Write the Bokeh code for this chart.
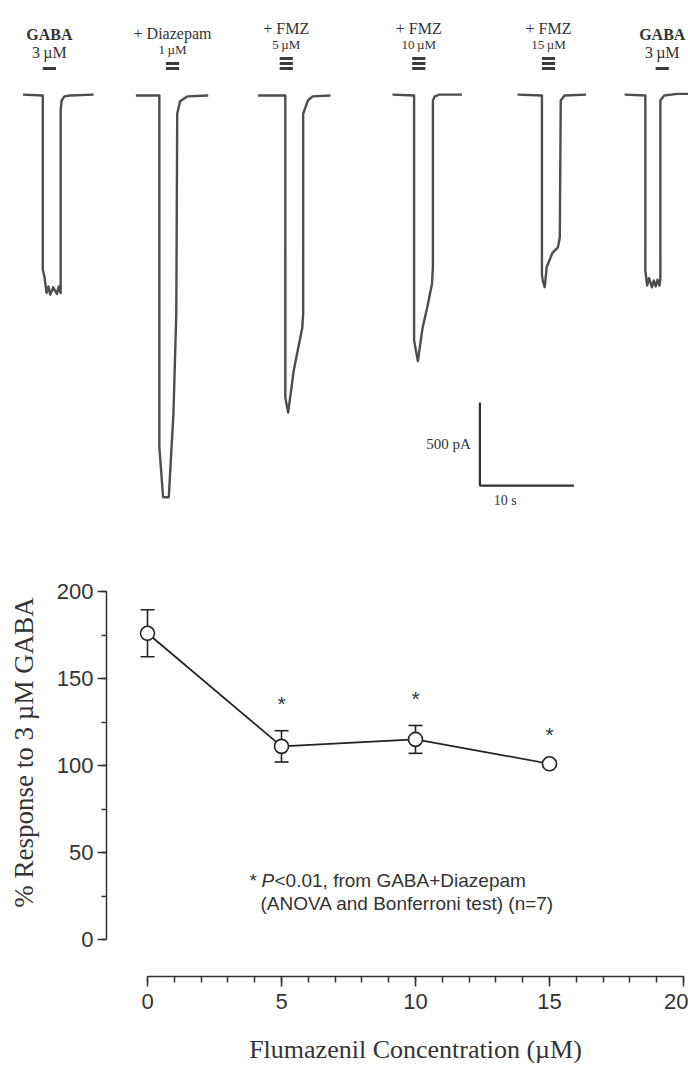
import math
from bokeh.plotting import figure
from bokeh.models import (Range1d, LinearAxis, SingleIntervalTicker, ColumnDataSource,
                          Whisker, TeeHead, Label)
from bokeh.core.properties import value
from bokeh.embed import file_html
from bokeh.resources import INLINE

# ---------------- whole-cell current sweeps (time in s, current in pA) ----------------
gaba_t = [2.4, 4.5, 4.5, 4.7, 4.8, 4.9, 5.1, 5.3, 5.6, 6.0, 6.2, 6.4, 6.4, 6.5, 6.8, 7.4, 9.9]
gaba_i = [5, 0, -1050, -1100, -1145, -1190, -1150, -1200, -1155, -1195, -1150, -1190, -90, -30, -5, 0, 5]

diaz_t = [14.4, 16.9, 16.9, 17.3, 17.9, 18.4, 18.7, 18.8, 19.1, 19.9, 22.1]
diaz_i = [0, 0, -2120, -2420, -2420, -1915, -1315, -110, -35, -5, 0]

fmz5_t = [27.4, 30.3, 30.3, 30.6, 31.2, 32.1, 32.2, 32.2, 32.7, 33.2, 35.1]
fmz5_i = [0, 0, -1820, -1910, -1655, -1400, -1315, -110, -30, -5, 0]

fmz10_t = [41.7, 44.0, 44.0, 44.4, 44.9, 45.4, 45.9, 46.0, 46.0, 46.2, 46.7, 49.1]
fmz10_i = [5, 0, -1475, -1600, -1400, -1275, -1135, -1035, -30, -5, 5, 5]

fmz15_t = [55.0, 57.6, 57.6, 57.7, 57.9, 58.1, 58.7, 59.3, 59.5, 59.6, 60.0, 62.3]
fmz15_i = [5, 0, -1080, -1120, -1155, -1035, -950, -915, -855, -30, 0, 5]

wash_t = [66.4, 68.6, 68.6, 68.8, 69.0, 69.3, 69.5, 69.7, 69.9, 70.1, 70.2, 70.2, 70.6, 72.0, 73.5]
wash_i = [5, 0, -1055, -1145, -1100, -1155, -1115, -1150, -1110, -1145, -1105, -30, 0, 10, 10]

# drug applications: centre time (s), number of co-applied drugs, labels
app_t = [5.2, 18.3, 30.4, 44.5, 58.3, 70.4]
app_drugs = [1, 2, 3, 3, 3, 1]
app_name = ["GABA", "+ Diazepam", "+ FMZ", "+ FMZ", "+ FMZ", "GABA"]
app_conc = ["3\u2009\u00b5M", "1\u2009\u00b5M", "5\u2009\u00b5M", "10\u2009\u00b5M",
            "15\u2009\u00b5M", "3\u2009\u00b5M"]

# calibration
SCALE_PA = 500
SCALE_S = 10

# ---------------- concentration-response summary ----------------
fmz_conc = [0, 5, 10, 15]
response = [176, 111, 115, 101]
response_sem = [13.5, 9, 8, 1.5]
significant = [False, True, True, True]

x_tick_step = 5
y_tick_step = 50

# ---------------- layout ----------------
W, H = 688, 1070
PX_PER_S = 9.4                 # 10 s calibration = 94 px
PX_PER_PA = 83 / SCALE_PA      # 500 pA calibration = 83 px
BASE_PX = 95                   # sweep baseline, px from the top

# concentration-response scales
X_ORIGIN_PX, PX_PER_UM = 147, 26.8
Y_ORIGIN_PX, PX_PER_PCT = 939, 1.74
AXIS_X_PX = 106                # y axis position
AXIS_Y_PX = 976                # x axis position

INK = "#333333"
LINE = "#222222"
TRACE = "#4d4d4d"
SERIF = "Liberation Serif"
SANS = "Liberation Sans"


def um_at(px):
    return (px - X_ORIGIN_PX) / PX_PER_UM


def pct_at(py):
    return (Y_ORIGIN_PX - py) / PX_PER_PCT


p = figure(width=W, height=H,
           x_range=Range1d(um_at(0), um_at(W)), y_range=Range1d(pct_at(H), pct_at(0)),
           output_backend="svg", toolbar_location=None, min_border=0,
           x_axis_location=None, y_axis_location=None, outline_line_color=None)
p.grid.visible = False
p.extra_x_ranges = {"time": Range1d(0, W / PX_PER_S)}
p.extra_y_ranges = {"current": Range1d(-(H - BASE_PX) / PX_PER_PA, BASE_PX / PX_PER_PA)}
tr = dict(x_range_name="time", y_range_name="current")

# ---- sweeps ----
for t, i in [(gaba_t, gaba_i), (diaz_t, diaz_i), (fmz5_t, fmz5_i),
             (fmz10_t, fmz10_i), (fmz15_t, fmz15_i), (wash_t, wash_i)]:
    p.line(t, i, line_color=TRACE, line_width=2.4, line_join="round", **tr)

# application bars, one stacked bar per drug
bar_half = 0.7
bar_base = 27 / PX_PER_PA
bar_gap = 5 / PX_PER_PA
bx0, bx1, by = [], [], []
for c, n in zip(app_t, app_drugs):
    for j in range(n):
        bx0.append(c - bar_half)
        bx1.append(c + bar_half)
        by.append(bar_base + j * bar_gap)
p.segment(bx0, by, bx1, by, line_color="#3a3a3a", line_width=3, **tr)

for k in range(len(app_t)):
    n = app_drugs[k]
    is_gaba = app_name[k] == "GABA"
    conc_off = -5 * (n - 1) - (16 if is_gaba else 14)
    name_off = conc_off - (18 if is_gaba else 16)
    p.text(x=[app_t[k]], y=[bar_base], text=[app_name[k]], y_offset=name_off,
           text_align="center", text_baseline="middle", text_color=INK,
           text_font=value(SERIF), text_font_size="16px",
           text_font_style="bold" if is_gaba else "normal", **tr)
    p.text(x=[app_t[k]], y=[bar_base], text=[app_conc[k]], y_offset=conc_off,
           text_align="center", text_baseline="middle", text_color=INK,
           text_font=value(SERIF), text_font_size="16px" if is_gaba else "13px", **tr)

# calibration bars
sb_t0 = 51.0
sb_i0 = -2350
p.line([sb_t0, sb_t0, sb_t0 + SCALE_S], [sb_i0 + SCALE_PA, sb_i0, sb_i0],
       line_color=INK, line_width=2.2, **tr)
p.text(x=[sb_t0], y=[sb_i0 + SCALE_PA / 2], text=[f"{SCALE_PA} pA"], x_offset=-9,
       text_align="right", text_baseline="middle", text_color=INK,
       text_font=value(SERIF), text_font_size="15px", **tr)
p.text(x=[sb_t0 + 2.7], y=[sb_i0], text=[f"{SCALE_S} s"], y_offset=15,
       text_align="center", text_baseline="middle", text_color=INK,
       text_font=value(SERIF), text_font_size="14px", **tr)

# ---- concentration-response axes ----
axis_style = dict(axis_line_width=1.5, axis_line_color=INK,
                  major_tick_line_width=1.5, minor_tick_line_width=1.5,
                  major_tick_line_color=INK, minor_tick_line_color=INK,
                  major_tick_in=0, minor_tick_in=0,
                  major_label_text_font=SANS, major_label_text_font_size="22px",
                  major_label_text_color=INK)

yax = LinearAxis(fixed_location=um_at(AXIS_X_PX), bounds=(0, 200),
                 ticker=SingleIntervalTicker(interval=y_tick_step, num_minor_ticks=2),
                 major_tick_out=9, minor_tick_out=5, major_label_standoff=4, **axis_style)
p.add_layout(yax, "left")

xax = LinearAxis(fixed_location=pct_at(AXIS_Y_PX), bounds=(0, 20),
                 ticker=SingleIntervalTicker(interval=x_tick_step, num_minor_ticks=5),
                 major_tick_out=10, minor_tick_out=6, major_label_standoff=7, **axis_style)
p.add_layout(xax, "below")

# ---- data ----
upper = [m + s for m, s in zip(response, response_sem)]
lower = [m - s for m, s in zip(response, response_sem)]
src = ColumnDataSource(dict(x=fmz_conc, y=response, upper=upper, lower=lower))

p.add_layout(Whisker(source=src, base="x", upper="upper", lower="lower",
                     line_color=LINE, line_width=1.6,
                     upper_head=TeeHead(size=14, line_color=LINE, line_width=1.6),
                     lower_head=TeeHead(size=14, line_color=LINE, line_width=1.6)))
p.line("x", "y", source=src, line_color=LINE, line_width=1.7)
p.scatter("x", "y", source=src, size=14, fill_color="white",
          line_color=LINE, line_width=1.6)

sig_x = [x for x, s in zip(fmz_conc, significant) if s]
sig_y = [u + 19 for u, s in zip(upper, significant) if s]
p.text(x=sig_x, y=sig_y, text=["*"] * len(sig_x), y_offset=6,
       text_align="center", text_baseline="middle", text_color=INK,
       text_font=value(SANS), text_font_size="21px")

# statistics note
note_x, note_y1, note_y2 = um_at(249), pct_at(880), pct_at(903)
note = dict(text_align="left", text_baseline="middle", text_color=INK,
            text_font=value(SANS), text_font_size="19px")
p.text(x=[note_x], y=[note_y1], text=["*"], **note)
p.text(x=[note_x], y=[note_y1], text=["P"], x_offset=12, text_font_style="italic", **note)
p.text(x=[note_x], y=[note_y1], text=["<0.01, from GABA+Diazepam"], x_offset=25, **note)
p.text(x=[note_x], y=[note_y2], text=["(ANOVA and Bonferroni test) (n=7)"], x_offset=11, **note)

# axis titles
p.add_layout(Label(x=10, y=pct_at(1049), text="Flumazenil Concentration (\u00b5M)",
                   text_align="center", text_baseline="middle", text_color=INK,
                   text_font=SERIF, text_font_size="26px"))
p.add_layout(Label(x=um_at(23), y=pct_at(752), text="% Response to 3 \u00b5M GABA",
                   angle=math.pi / 2, text_align="center", text_baseline="middle",
                   text_color=INK, text_font=SERIF, text_font_size="27px"))

open("out.html", "w").write(file_html(p, INLINE))
